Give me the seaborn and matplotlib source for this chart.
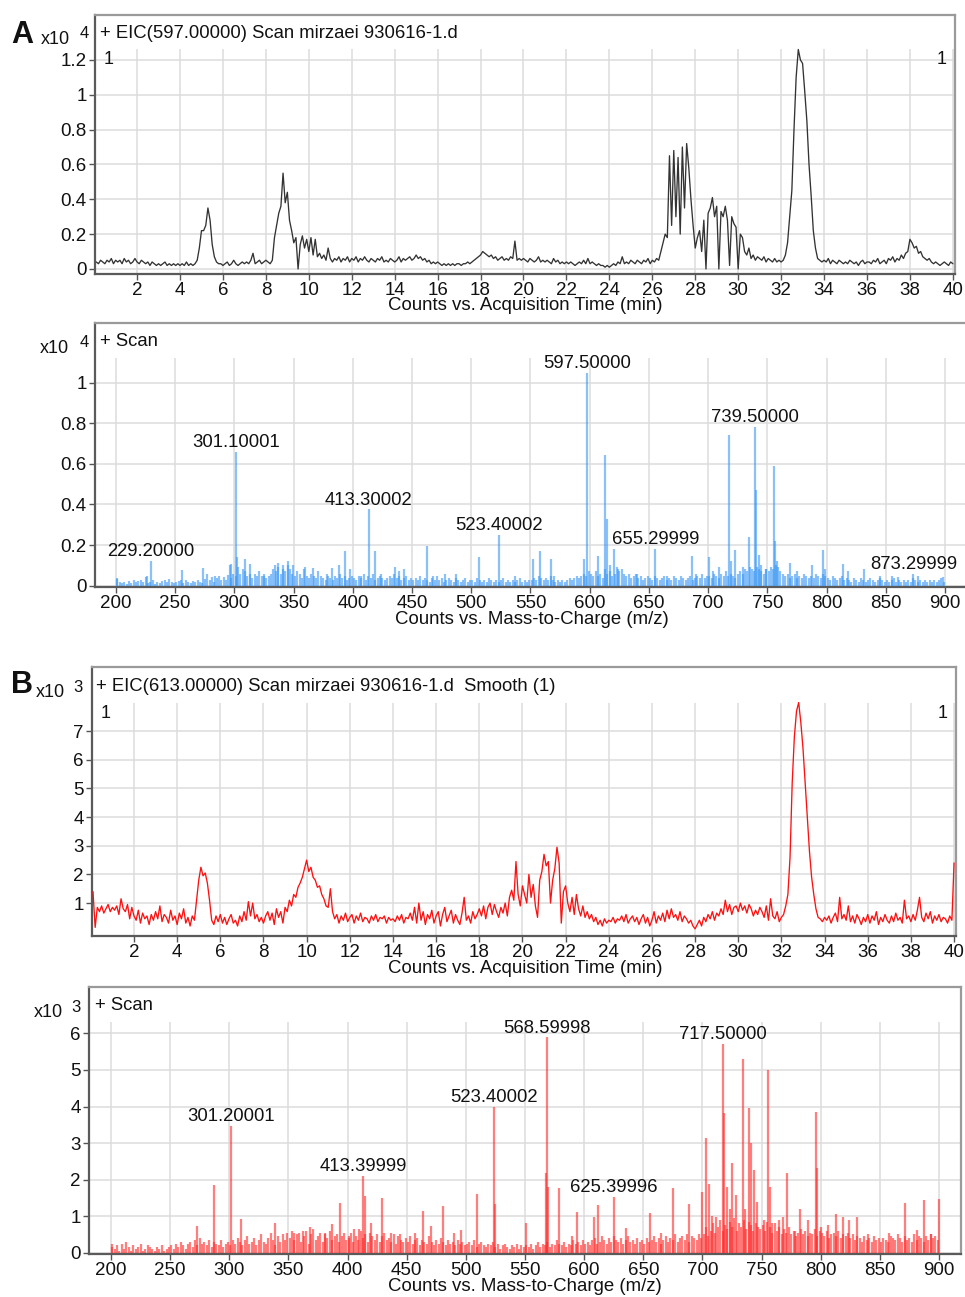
import numpy as np
import pandas as pd
import seaborn as sns
import matplotlib
matplotlib.use("Agg")
import matplotlib.pyplot as plt
from matplotlib.patches import Rectangle
from matplotlib.ticker import FuncFormatter

# ---------------- data ----------------
# EIC traces, one value every 0.1 min from 0.1 to 40.0 min
eic_start = 0.1
eic_step = 0.1

# panel A, EIC 597 (x10^4 counts)
eic_a = [
    0.04, 0.03, 0.05, 0.04, 0.03, 0.05, 0.04, 0.06, 0.03, 0.05,
    0.04, 0.05, 0.03, 0.06, 0.04, 0.05, 0.03, 0.04, 0.06, 0.04,
    0.03, 0.05, 0.04, 0.03, 0.04, 0.02, 0.04, 0.03, 0.02, 0.03,
    0.02, 0.03, 0.04, 0.02, 0.03, 0.02, 0.03, 0.02, 0.03, 0.02,
    0.03, 0.02, 0.04, 0.02, 0.03, 0.02, 0.03, 0.05, 0.12, 0.22,
    0.22, 0.25, 0.35, 0.28, 0.14, 0.07, 0.04, 0.03, 0.03, 0.02,
    0.03, 0.04, 0.02, 0.03, 0.05, 0.03, 0.02, 0.03, 0.04, 0.03,
    0.04, 0.03, 0.05, 0.09, 0.03, 0.04, 0.05, 0.03, 0.04, 0.05,
    0.04, 0.03, 0.05, 0.18, 0.25, 0.32, 0.36, 0.55, 0.38, 0.44,
    0.28, 0.22, 0.15, 0.18, 0.00, 0.14, 0.19, 0.12, 0.17, 0.10,
    0.18, 0.08, 0.17, 0.07, 0.09, 0.06, 0.08, 0.05, 0.12, 0.06,
    0.04, 0.06, 0.05, 0.07, 0.04, 0.06, 0.05, 0.07, 0.04, 0.06,
    0.05, 0.07, 0.04, 0.06, 0.05, 0.07, 0.05, 0.04, 0.06, 0.05,
    0.04, 0.06, 0.05, 0.07, 0.04, 0.05, 0.04, 0.06, 0.05, 0.04,
    0.05, 0.07, 0.04, 0.06, 0.05, 0.06, 0.07, 0.05, 0.06, 0.08,
    0.06, 0.07, 0.05, 0.06, 0.04, 0.05, 0.03, 0.04, 0.03, 0.04,
    0.03, 0.02, 0.03, 0.02, 0.03, 0.02, 0.03, 0.02, 0.03, 0.03,
    0.02, 0.03, 0.03, 0.04, 0.03, 0.04, 0.05, 0.06, 0.07, 0.08,
    0.10, 0.09, 0.08, 0.07, 0.08, 0.06, 0.07, 0.05, 0.06, 0.07,
    0.05, 0.06, 0.05, 0.07, 0.06, 0.16, 0.05, 0.06, 0.05, 0.06,
    0.05, 0.04, 0.06, 0.05, 0.04, 0.05, 0.07, 0.04, 0.05, 0.04,
    0.05, 0.04, 0.03, 0.06, 0.04, 0.05, 0.03, 0.04, 0.03, 0.04,
    0.03, 0.04, 0.03, 0.02, 0.03, 0.04, 0.03, 0.05, 0.03, 0.06,
    0.03, 0.04, 0.03, 0.02, 0.03, 0.02, 0.02, 0.01, 0.02, 0.01,
    0.02, 0.03, 0.02, 0.04, 0.03, 0.07, 0.03, 0.04, 0.03, 0.05,
    0.04, 0.03, 0.05, 0.04, 0.03, 0.05, 0.04, 0.06, 0.03, 0.05,
    0.04, 0.06, 0.05, 0.10, 0.15, 0.20, 0.18, 0.65, 0.25, 0.68,
    0.30, 0.64, 0.20, 0.70, 0.35, 0.72, 0.58, 0.40, 0.25, 0.12,
    0.18, 0.22, 0.10, 0.28, 0.00, 0.32, 0.35, 0.41, 0.30, 0.36,
    0.00, 0.33, 0.30, 0.36, 0.28, 0.02, 0.30, 0.26, 0.24, 0.00,
    0.20, 0.18, 0.10, 0.08, 0.12, 0.06, 0.08, 0.05, 0.07, 0.06,
    0.05, 0.07, 0.04, 0.06, 0.05, 0.04, 0.06, 0.04, 0.05, 0.04,
    0.05, 0.08, 0.15, 0.30, 0.45, 0.80, 1.10, 1.26, 1.20, 1.18,
    1.02, 0.85, 0.60, 0.42, 0.22, 0.12, 0.06, 0.05, 0.04, 0.05,
    0.04, 0.06, 0.03, 0.05, 0.04, 0.03, 0.05, 0.04, 0.03, 0.04,
    0.03, 0.05, 0.04, 0.03, 0.04, 0.02, 0.04, 0.05, 0.03, 0.04,
    0.04, 0.03, 0.05, 0.04, 0.06, 0.03, 0.04, 0.05, 0.03, 0.06,
    0.05, 0.07, 0.04, 0.06, 0.05, 0.08, 0.06, 0.09, 0.10, 0.17,
    0.15, 0.12, 0.13, 0.09, 0.10, 0.07, 0.06, 0.05, 0.06, 0.04,
    0.03, 0.04, 0.03, 0.02, 0.03, 0.04, 0.03, 0.02, 0.04, 0.03,
]

# panel B, EIC 613 smoothed (x10^3 counts)
eic_b = [
    1.40, 0.15, 0.85, 0.70, 0.90, 0.65, 0.80, 0.95, 0.70, 0.85,
    0.75, 0.90, 0.60, 1.15, 0.80, 0.70, 0.95, 0.45, 0.85, 0.55,
    0.40, 0.75, 0.30, 0.65, 0.45, 0.55, 0.25, 0.60, 0.40, 0.70,
    0.45, 0.90, 0.35, 0.60, 0.50, 0.30, 0.75, 0.40, 0.55, 0.25,
    0.65, 0.45, 0.80, 0.30, 0.50, 0.20, 0.55, 0.40, 1.10, 1.80,
    2.25, 1.95, 2.05, 1.70, 1.10, 0.40, 0.25, 0.55, 0.35, 0.60,
    0.30, 0.50, 0.25, 0.45, 0.60, 0.30, 0.40, 0.20, 0.55, 0.35,
    0.70, 0.40, 1.05, 0.55, 1.00, 0.45, 0.60, 0.35, 0.50, 0.30,
    0.55, 0.70, 0.40, 0.65, 0.25, 0.80, 0.50, 0.70, 0.30, 0.85,
    0.70, 1.10, 0.90, 1.30, 1.20, 1.55, 1.70, 1.90, 2.20, 2.50,
    2.10, 2.25, 1.90, 1.80, 1.55, 1.60, 1.30, 1.15, 0.90, 0.85,
    1.50, 0.70, 0.45, 0.60, 0.30, 0.55, 0.40, 0.65, 0.35, 0.50,
    0.60, 0.30, 0.55, 0.40, 0.65, 0.35, 0.50, 0.45, 0.30, 0.55,
    0.40, 0.60, 0.35, 0.50, 0.45, 0.55, 0.30, 0.50, 0.40, 0.45,
    0.35, 0.55, 0.40, 0.60, 0.30, 0.50, 0.45, 0.65, 0.40, 0.85,
    0.30, 1.00, 0.40, 0.70, 0.25, 0.60, 0.45, 0.75, 0.30, 0.55,
    0.70, 0.20, 0.60, 0.85, 0.35, 0.55, 0.75, 0.30, 0.60, 0.40,
    0.25, 0.65, 1.20, 0.40, 0.55, 0.30, 0.70, 0.45, 0.60, 0.80,
    0.55, 0.90, 0.45, 0.85, 1.00, 0.60, 0.95, 0.70, 0.50, 0.85,
    0.65, 1.00, 0.55, 1.20, 1.45, 1.10, 2.45, 1.30, 0.90, 1.60,
    1.30, 1.00, 2.00, 1.20, 1.65, 0.90, 0.50, 1.80, 2.10, 2.70,
    2.30, 2.45, 1.00, 1.80, 2.20, 2.95, 2.40, 0.30, 1.40, 1.60,
    1.00, 0.70, 1.20, 0.60, 1.30, 0.80, 0.55, 0.90, 0.50, 0.70,
    0.45, 0.60, 0.35, 0.50, 0.25, 0.40, 0.20, 0.45, 0.30, 0.40,
    0.35, 0.50, 0.30, 0.45, 0.40, 0.55, 0.35, 0.60, 0.30, 0.45,
    0.55, 0.35, 0.50, 0.25, 0.45, 0.60, 0.30, 0.50, 0.20, 0.40,
    0.70, 0.30, 0.55, 0.40, 0.65, 0.35, 0.75, 0.45, 0.80, 0.50,
    0.60, 0.40, 0.70, 0.35, 0.55, 0.45, 0.30, 0.40, 0.20, 0.10,
    0.25, 0.40, 0.20, 0.50, 0.35, 0.60, 0.45, 0.70, 0.40, 0.65,
    0.55, 0.80, 0.60, 1.10, 0.70, 0.95, 0.60, 0.85, 0.90, 0.70,
    1.00, 0.75, 0.90, 0.65, 0.95, 0.80, 0.55, 0.75, 0.60, 0.85,
    0.70, 0.50, 0.90, 0.40, 1.15, 0.55, 0.45, 0.70, 0.35, 0.50,
    0.60, 0.90, 1.30, 2.60, 5.20, 6.80, 7.70, 8.00, 7.30, 6.40,
    5.20, 4.00, 2.80, 1.90, 1.30, 0.80, 0.50, 0.45, 0.35, 0.50,
    0.40, 0.55, 0.30, 0.50, 0.65, 0.35, 1.20, 0.45, 0.60, 0.40,
    0.90, 0.35, 0.55, 0.30, 0.60, 0.45, 0.25, 0.50, 0.35, 0.60,
    0.30, 0.55, 0.40, 0.70, 0.25, 0.50, 0.35, 0.60, 0.40, 0.30,
    0.55, 0.35, 0.65, 0.40, 0.50, 0.30, 1.10, 0.45, 0.55, 0.35,
    0.60, 0.40, 0.75, 1.20, 0.50, 0.35, 0.65, 0.45, 0.70, 0.30,
    0.55, 0.40, 0.60, 0.35, 0.50, 0.45, 0.30, 0.55, 0.40, 2.40,
]

# mass spectra: low-level background sticks every 2 m/z from 201 to 899
bg_start = 201
bg_step = 2

# panel A spectrum background (x10^4)
spec_a_bg = [
    0.035, 0.02, 0.015, 0.02, 0.01, 0.025, 0.015, 0.03, 0.02, 0.025, 0.03, 0.02, 0.045, 0.015, 0.02, 0.03, 0.01, 0.02, 0.015, 0.025, 0.03, 0.02, 0.035, 0.02, 0.015,
    0.02, 0.025, 0.03, 0.015, 0.03, 0.02, 0.015, 0.025, 0.02, 0.03, 0.02, 0.015, 0.035, 0.06, 0.03, 0.045, 0.02, 0.04, 0.05, 0.03, 0.045, 0.03, 0.055, 0.04, 0.06,
    0.05, 0.09, 0.06, 0.08, 0.07, 0.05, 0.06, 0.04, 0.06, 0.05, 0.07, 0.05, 0.06, 0.04, 0.05, 0.06, 0.08, 0.07, 0.09, 0.06, 0.08, 0.07, 0.10, 0.08, 0.06,
    0.05, 0.07, 0.06, 0.04, 0.08, 0.05, 0.04, 0.06, 0.05, 0.04, 0.07, 0.05, 0.04, 0.03, 0.05, 0.04, 0.03, 0.05, 0.04, 0.06, 0.04, 0.05, 0.03, 0.04, 0.05,
    0.04, 0.03, 0.05, 0.04, 0.06, 0.03, 0.05, 0.04, 0.06, 0.03, 0.04, 0.05, 0.04, 0.03, 0.04, 0.05, 0.04, 0.06, 0.04, 0.05, 0.03, 0.04, 0.05, 0.03, 0.04,
    0.03, 0.04, 0.03, 0.05, 0.03, 0.04, 0.03, 0.02, 0.04, 0.03, 0.05, 0.03, 0.04, 0.02, 0.03, 0.04, 0.03, 0.02, 0.04, 0.03, 0.02, 0.03, 0.04, 0.02, 0.03,
    0.03, 0.02, 0.04, 0.03, 0.02, 0.03, 0.02, 0.04, 0.03, 0.02, 0.03, 0.02, 0.03, 0.04, 0.02, 0.03, 0.02, 0.03, 0.02, 0.03, 0.04, 0.02, 0.03, 0.02, 0.03,
    0.03, 0.04, 0.03, 0.05, 0.04, 0.03, 0.04, 0.03, 0.05, 0.03, 0.02, 0.03, 0.02, 0.03, 0.02, 0.03, 0.04, 0.03, 0.04, 0.05, 0.04, 0.05, 0.06, 0.05, 0.07,
    0.06, 0.05, 0.07, 0.05, 0.06, 0.04, 0.08, 0.06, 0.07, 0.05, 0.06, 0.09, 0.07, 0.08, 0.06, 0.05, 0.06, 0.04, 0.05, 0.06, 0.04, 0.05, 0.03, 0.04, 0.05,
    0.04, 0.03, 0.05, 0.04, 0.03, 0.04, 0.05, 0.03, 0.04, 0.03, 0.05, 0.04, 0.03, 0.05, 0.04, 0.03, 0.04, 0.05, 0.03, 0.04, 0.05, 0.04, 0.06, 0.04, 0.05,
    0.05, 0.04, 0.06, 0.05, 0.04, 0.06, 0.05, 0.07, 0.05, 0.06, 0.05, 0.04, 0.06, 0.07, 0.06, 0.08, 0.07, 0.09, 0.08, 0.07, 0.09, 0.08, 0.07, 0.06, 0.08,
    0.07, 0.09, 0.08, 0.10, 0.09, 0.07, 0.06, 0.05, 0.06, 0.04, 0.05, 0.06, 0.04, 0.05, 0.04, 0.06, 0.05, 0.04, 0.05, 0.04, 0.06, 0.05, 0.04, 0.06, 0.05,
    0.04, 0.03, 0.05, 0.04, 0.03, 0.04, 0.05, 0.03, 0.04, 0.03, 0.02, 0.04, 0.03, 0.02, 0.04, 0.03, 0.02, 0.03, 0.04, 0.03, 0.02, 0.03, 0.04, 0.03, 0.02,
    0.03, 0.02, 0.03, 0.04, 0.02, 0.03, 0.02, 0.03, 0.02, 0.03, 0.02, 0.04, 0.03, 0.02, 0.03, 0.02, 0.03, 0.02, 0.03, 0.02, 0.03, 0.02, 0.03, 0.04, 0.02,
]

# panel A spectrum, distinct peaks
spec_a_mz = [
    201.0, 226.5, 229.2, 256.0, 273.8, 284.0, 296.0, 297.5, 301.1, 302.3,
    309.2, 313.3, 325.0, 334.5, 337.0, 341.0, 345.0, 349.8, 359.7, 366.0,
    378.0, 382.0, 388.5, 393.2, 398.0, 407.0, 413.3, 418.8, 424.0, 435.6,
    439.0, 443.0, 462.7, 468.0, 478.0, 487.0, 506.7, 523.4, 536.6, 552.3,
    558.0, 567.0, 570.0, 595.5, 597.5, 607.3, 613.3, 614.3, 617.0, 620.3,
    624.0, 640.0, 655.3, 665.0, 686.5, 690.0, 700.3, 704.0, 709.0, 717.5,
    719.0, 722.5, 729.0, 734.6, 739.5, 740.5, 743.0, 745.0, 749.0, 755.5,
    756.5, 758.0, 769.0, 775.0, 788.0, 796.8, 799.0, 814.0, 818.0, 831.5,
    845.0, 855.5, 860.0, 873.3, 877.0, 898.6,
]
spec_a_int = [
    0.036, 0.048, 0.120, 0.075, 0.085, 0.050, 0.100, 0.107, 0.660, 0.140,
    0.130, 0.105, 0.050, 0.100, 0.110, 0.100, 0.120, 0.100, 0.094, 0.085,
    0.060, 0.085, 0.100, 0.170, 0.080, 0.050, 0.376, 0.170, 0.060, 0.094,
    0.070, 0.080, 0.195, 0.048, 0.060, 0.056, 0.140, 0.250, 0.050, 0.130,
    0.170, 0.130, 0.050, 0.130, 1.046, 0.146, 0.644, 0.330, 0.100, 0.180,
    0.080, 0.060, 0.180, 0.050, 0.146, 0.060, 0.140, 0.070, 0.094, 0.742,
    0.120, 0.176, 0.090, 0.240, 0.783, 0.470, 0.150, 0.100, 0.080, 0.590,
    0.220, 0.120, 0.110, 0.070, 0.100, 0.176, 0.080, 0.107, 0.070, 0.080,
    0.050, 0.050, 0.045, 0.056, 0.050, 0.045,
]
spec_a_labels = ["229.20000", "301.10001", "413.30002", "523.40002",
                 "597.50000", "655.29999", "739.50000", "873.29999"]
spec_a_label_mz = [229.2, 301.1, 413.3, 523.4, 597.5, 655.3, 739.5, 873.3]

# panel B spectrum background (x10^3)
spec_b_bg = [
    0.15, 0.10, 0.20, 0.05, 0.25, 0.10, 0.30, 0.15, 0.05, 0.20, 0.10, 0.15, 0.25, 0.05, 0.10, 0.20, 0.15, 0.10, 0.05, 0.15, 0.10, 0.20, 0.05, 0.10, 0.15,
    0.20, 0.10, 0.25, 0.15, 0.30, 0.20, 0.10, 0.25, 0.30, 0.15, 0.35, 0.20, 0.40, 0.25, 0.30, 0.20, 0.35, 0.15, 0.30, 0.25, 0.20, 0.35, 0.15, 0.25, 0.30,
    0.20, 0.35, 0.25, 0.40, 0.30, 0.20, 0.35, 0.45, 0.25, 0.30, 0.40, 0.20, 0.35, 0.50, 0.30, 0.25, 0.40, 0.55, 0.35, 0.20, 0.45, 0.30, 0.50, 0.35, 0.55,
    0.40, 0.60, 0.35, 0.50, 0.55, 0.30, 0.45, 0.60, 0.25, 0.50, 0.65, 0.35, 0.45, 0.55, 0.30, 0.50, 0.40, 0.60, 0.35, 0.45, 0.50, 0.30, 0.45, 0.55, 0.35,
    0.40, 0.55, 0.30, 0.45, 0.35, 0.60, 0.40, 0.50, 0.30, 0.55, 0.45, 0.35, 0.50, 0.30, 0.45, 0.55, 0.35, 0.40, 0.30, 0.50, 0.25, 0.45, 0.35, 0.30, 0.40,
    0.30, 0.45, 0.25, 0.35, 0.40, 0.20, 0.35, 0.30, 0.25, 0.45, 0.30, 0.20, 0.35, 0.25, 0.40, 0.30, 0.20, 0.35, 0.25, 0.30, 0.20, 0.35, 0.25, 0.30, 0.20,
    0.25, 0.30, 0.20, 0.35, 0.15, 0.25, 0.30, 0.20, 0.15, 0.25, 0.20, 0.30, 0.15, 0.25, 0.10, 0.20, 0.25, 0.15, 0.10, 0.20, 0.15, 0.25, 0.10, 0.20, 0.15,
    0.20, 0.15, 0.25, 0.10, 0.20, 0.30, 0.15, 0.25, 0.20, 0.30, 0.15, 0.25, 0.20, 0.35, 0.25, 0.20, 0.30, 0.15, 0.25, 0.20, 0.35, 0.25, 0.30, 0.20, 0.35,
    0.25, 0.30, 0.20, 0.35, 0.40, 0.25, 0.30, 0.45, 0.35, 0.25, 0.40, 0.30, 0.45, 0.35, 0.30, 0.40, 0.25, 0.35, 0.45, 0.30, 0.35, 0.25, 0.40, 0.30, 0.35,
    0.25, 0.40, 0.30, 0.35, 0.45, 0.30, 0.40, 0.25, 0.35, 0.45, 0.30, 0.40, 0.35, 0.50, 0.30, 0.40, 0.45, 0.35, 0.50, 0.30, 0.45, 0.40, 0.35, 0.50, 0.40,
    0.50, 0.70, 0.45, 0.60, 0.80, 0.55, 0.70, 0.90, 0.60, 0.75, 0.65, 0.85, 0.70, 0.95, 0.60, 0.80, 0.70, 0.90, 0.65, 0.85, 0.75, 0.60, 0.80, 0.70, 0.65,
    0.75, 0.60, 0.85, 0.70, 0.55, 0.80, 0.60, 0.70, 0.50, 0.65, 0.55, 0.70, 0.50, 0.60, 0.45, 0.55, 0.65, 0.50, 0.60, 0.45, 0.55, 0.50, 0.65, 0.45, 0.60,
    0.55, 0.45, 0.60, 0.40, 0.50, 0.55, 0.45, 0.60, 0.40, 0.50, 0.45, 0.55, 0.40, 0.50, 0.35, 0.45, 0.40, 0.30, 0.45, 0.35, 0.40, 0.30, 0.45, 0.35, 0.40,
    0.30, 0.40, 0.35, 0.30, 0.45, 0.40, 0.35, 0.50, 0.40, 0.30, 0.45, 0.35, 0.40, 0.30, 0.50, 0.35, 0.45, 0.40, 0.30, 0.45, 0.35, 0.50, 0.40, 0.45, 0.35,
]

# panel B spectrum, distinct peaks
spec_b_mz = [
    200.5, 272.8, 286.9, 301.2, 309.5, 339.0, 355.0, 362.0, 368.0, 381.0,
    387.0, 393.6, 401.0, 405.5, 409.7, 413.4, 414.5, 419.6, 429.5, 436.5,
    444.0, 457.0, 463.9, 470.4, 480.3, 490.0, 495.8, 509.3, 523.4, 524.5,
    550.8, 567.5, 568.6, 569.5, 578.5, 590.0, 594.2, 608.6, 612.0, 625.4,
    635.0, 655.7, 665.0, 674.8, 689.0, 699.3, 703.0, 705.3, 708.0, 711.5,
    717.5, 718.5, 720.5, 723.0, 725.3, 728.4, 734.0, 736.0, 739.6, 740.8,
    743.6, 746.0, 752.0, 755.7, 756.8, 759.0, 765.0, 768.4, 771.5, 778.0,
    782.5, 789.0, 795.7, 797.0, 800.0, 806.0, 812.9, 818.5, 824.0, 830.4,
    840.0, 858.0, 871.2, 881.0, 887.3, 893.0, 900.2,
]
spec_b_int = [
    0.25, 0.73, 1.85, 3.46, 0.91, 0.82, 0.55, 0.60, 0.70, 0.55,
    0.78, 1.37, 0.45, 0.66, 0.66, 2.10, 1.55, 0.82, 1.51, 0.55,
    0.50, 0.55, 1.15, 0.73, 1.28, 0.55, 0.62, 1.62, 3.99, 1.33,
    0.80, 2.19, 5.89, 1.80, 1.76, 0.45, 1.12, 0.97, 1.30, 1.53,
    0.67, 1.09, 0.55, 1.76, 1.33, 1.67, 3.13, 1.88, 1.00, 0.98,
    5.72, 3.81, 1.80, 1.20, 2.46, 1.58, 5.31, 1.20, 3.95, 2.99,
    2.26, 1.40, 0.90, 5.01, 1.80, 0.80, 0.90, 0.97, 2.19, 0.60,
    1.19, 0.90, 3.84, 2.33, 0.70, 0.75, 1.06, 0.97, 0.90, 0.97,
    0.50, 0.55, 1.37, 0.62, 1.44, 0.50, 1.48,
]
spec_b_labels = ["301.20001", "413.39999", "523.40002", "568.59998",
                 "625.39996", "717.50000"]
spec_b_label_mz = [301.2, 413.4, 523.4, 568.6, 625.4, 717.5]

time_ticks = [2, 4, 6, 8, 10, 12, 14, 16, 18, 20, 22, 24, 26, 28, 30, 32, 34, 36, 38, 40]
mz_ticks = [200, 250, 300, 350, 400, 450, 500, 550, 600, 650, 700, 750, 800, 850, 900]

# ---------------- figure ----------------
sns.set_theme(style="whitegrid")
plt.rcParams["font.family"] = ["Liberation Sans", "DejaVu Sans"]

W, H = 965, 1297
fig = plt.figure(figsize=(W / 100, H / 100), dpi=100)
fig.patch.set_facecolor("white")


def px_axes(left, right, top, bottom):
    return fig.add_axes([left / W, 1 - bottom / H, (right - left) / W, (bottom - top) / H])


def ftext(x, y, s, **kw):
    kw.setdefault("color", "#111111")
    fig.text(x / W, 1 - y / H, s, va="baseline", **kw)


def style_axes(ax, xlim, ylim, xticks, yticks):
    ax.set_facecolor("white")
    ax.set_xlim(*xlim)
    ax.set_ylim(*ylim)
    ax.set_xticks(xticks)
    ax.set_yticks(yticks)
    fmt = FuncFormatter(lambda v, p: f"{v:g}")
    ax.xaxis.set_major_formatter(fmt)
    ax.yaxis.set_major_formatter(fmt)
    ax.set_xlabel("")
    ax.set_ylabel("")
    ax.grid(True, color="#dcdcdc", linewidth=1.1)
    ax.set_axisbelow(True)
    # blank header strip where the trace title sits
    ax.add_patch(Rectangle((0, 0.868), 1, 0.2, transform=ax.transAxes,
                           facecolor="white", edgecolor="none", zorder=1.5))
    for side, sp in ax.spines.items():
        sp.set_visible(True)
        sp.set_linewidth(1.6)
        sp.set_color("#5a5a5a" if side in ("left", "bottom") else "#9a9a9a")
    ax.tick_params(axis="both", which="major", bottom=True, left=True,
                   length=4, width=1, color="#555555", labelsize=13.5,
                   labelcolor="#111111", pad=2)


def draw_eic(ax, values, color):
    t = np.round(eic_start + eic_step * np.arange(len(values)), 2)
    df = pd.DataFrame({"time": t, "counts": values})
    sns.lineplot(data=df, x="time", y="counts", ax=ax, color=color,
                 linewidth=0.95, estimator=None, zorder=3)


def draw_spectrum(ax, bg, mz, inten, labels, label_mz, color):
    bg_mz = bg_start + bg_step * np.arange(len(bg))
    all_mz = np.concatenate([bg_mz, mz])
    all_int = np.concatenate([bg, inten])
    ax.vlines(all_mz, 0, all_int, color=color, linewidth=1.6, alpha=0.6, zorder=3)
    mz_arr = np.asarray(mz)
    int_arr = np.asarray(inten)
    for lab, lm in zip(labels, label_mz):
        h = int_arr[np.abs(mz_arr - lm) < 0.6].max()
        ax.annotate(lab, xy=(lm, h), xytext=(0, 3.5), textcoords="offset points",
                    ha="center", va="baseline", fontsize=13.3, color="#111111",
                    zorder=5)


# ---- A: EIC 597 ----
ax1 = px_axes(95, 955, 15, 274)
draw_eic(ax1, eic_a, "#333333")
style_axes(ax1, (0.04, 40.1), (-0.029, 1.458), time_ticks,
           [0, 0.2, 0.4, 0.6, 0.8, 1.0, 1.2])
ax1.text(0.01, 1.2, "1", transform=ax1.get_yaxis_transform(), fontsize=13,
         va="center", ha="left", color="#111111", zorder=5)
ax1.text(0.99, 1.2, "1", transform=ax1.get_yaxis_transform(), fontsize=13,
         va="center", ha="right", color="#111111", zorder=5)

# ---- A: spectrum ----
ax2 = px_axes(95, 975, 323, 587)
draw_spectrum(ax2, spec_a_bg, spec_a_mz, spec_a_int, spec_a_labels,
              spec_a_label_mz, "#3c98f5")
style_axes(ax2, (182.3, 925.3), (-0.0064, 1.294), mz_ticks,
           [0, 0.2, 0.4, 0.6, 0.8, 1.0])

# ---- B: EIC 613 ----
ax3 = px_axes(92, 956, 667, 936)
draw_eic(ax3, eic_b, "#ff1010")
style_axes(ax3, (0.054, 40.09), (-0.15, 9.24), time_ticks,
           [1, 2, 3, 4, 5, 6, 7])
ax3.text(0.01, 7.63, "1", transform=ax3.get_yaxis_transform(), fontsize=13,
         va="center", ha="left", color="#111111", zorder=5)
ax3.text(0.99, 7.63, "1", transform=ax3.get_yaxis_transform(), fontsize=13,
         va="center", ha="right", color="#111111", zorder=5)

# ---- B: spectrum ----
ax4 = px_axes(89, 961, 987, 1254)
draw_spectrum(ax4, spec_b_bg, spec_b_mz, spec_b_int, spec_b_labels,
              spec_b_label_mz, "#ff2a2a")
style_axes(ax4, (181.4, 918.6), (-0.035, 7.27), mz_ticks,
           [0, 1, 2, 3, 4, 5, 6])

# ---- panel letters, exponents, titles, axis labels ----
ftext(11, 43, "A", fontsize=22, fontweight="bold")
ftext(41, 44, "x10", fontsize=13)
ftext(80, 38, "4", fontsize=12)
ftext(100, 37.5, "+ EIC(597.00000) Scan mirzaei 930616-1.d", fontsize=13.3)
ftext(525, 310, "Counts vs. Acquisition Time (min)", fontsize=13.4, ha="center")

ftext(40, 353, "x10", fontsize=13)
ftext(80, 347, "4", fontsize=12)
ftext(100, 346.5, "+ Scan", fontsize=13.3)
ftext(532, 624, "Counts vs. Mass-to-Charge (m/z)", fontsize=13.4, ha="center")

ftext(11, 693, "B", fontsize=22, fontweight="bold")
ftext(36, 697, "x10", fontsize=13)
ftext(73, 692, "3", fontsize=12)
ftext(96, 691.5, "+ EIC(613.00000) Scan mirzaei 930616-1.d  Smooth (1)", fontsize=13.3)
ftext(525, 973, "Counts vs. Acquisition Time (min)", fontsize=13.4, ha="center")

ftext(34, 1017, "x10", fontsize=13)
ftext(71, 1012, "3", fontsize=12)
ftext(95, 1010.5, "+ Scan", fontsize=13.3)
ftext(525, 1291, "Counts vs. Mass-to-Charge (m/z)", fontsize=13.4, ha="center")

fig.savefig("out.png", dpi=100, facecolor="white")
